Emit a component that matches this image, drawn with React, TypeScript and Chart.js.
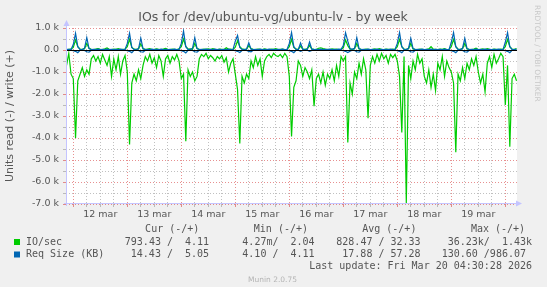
import React, { useEffect, useRef } from 'react';
import { Chart, registerables } from 'chart.js';

Chart.register(...registerables);

// ---------- text ----------
const TITLE = 'IOs for /dev/ubuntu-vg/ubuntu-lv - by week';
const Y_TITLE = 'Units read (-) / write (+)';
const WATERMARK = 'RRDTOOL / TOBI OETIKER';
const FOOTER = 'Munin 2.0.75';
const LAST_UPDATE = 'Last update: Fri Mar 20 04:30:28 2026';

// x axis: hours relative to 12 mar 00:00
const X_MIN = -3.24;
const X_MAX = 197.2;
const START_HOUR = -3;
const DAY_TICKS = [12, 36, 60, 84, 108, 132, 156, 180];
const DAY_LABELS = ['12 mar', '13 mar', '14 mar', '15 mar', '16 mar', '17 mar', '18 mar', '19 mar'];

// y axis
const Y_MIN = -7000;
const Y_MAX = 1000;
const Y_TICK_VALUES = [1000, 0, -1000, -2000, -3000, -4000, -5000, -6000, -7000];
const Y_TICK_LABELS = ['1.0 k', '0.0', '-1.0 k', '-2.0 k', '-3.0 k', '-4.0 k', '-5.0 k', '-6.0 k', '-7.0 k'];

// legend
const LEGEND_HEADERS = ['Cur (-/+)', 'Min (-/+)', 'Avg (-/+)', 'Max (-/+)'];
const SERIES_NAMES = ['IO/sec', 'Req Size (KB)'];
const IO_STATS = ['793.43 /  4.11', '4.27m/  2.04', '828.47 / 32.33', '36.23k/  1.43k'];
const REQ_STATS = ['14.43 /  5.05 ', '4.10 /  4.11 ', '17.88 / 57.28 ', '130.60 /986.07 '];

// ---------- data (hourly, from -3 h to 197 h) ----------
const IO_READ = [
  -700, -150, -1100,
  -1300, -4000, -1400, -1100, -800, -1200, -900, -1100, -400, -250, -500, -300, -600, -200, -450, -700, -300, -1200, -400, -900, -300, -1100, -500, -250,
  -1000, -4300, -1500, -1100, -1400, -900, -1300, -700, -300, -500, -200, -600, -350, -800, -250, -500, -1200, -400, -250, -600, -300, -450, -200, -500,
  -1300, -1100, -4150, -900, -1200, -1000, -1400, -1200, -400, -200, -300, -150, -400, -250, -350, -500, -300, -400, -250, -550, -350, -1000, -600, -400,
  -1100, -1800, -4250, -1200, -1500, -1100, -1300, -500, -800, -300, -700, -400, -1200, -500, -300, -200, -350, -150, -250, -300, -200, -350, -150, -300,
  -1200, -3930, -1700, -1400, -500, -700, -1200, -800, -1000, -1300, -900, -2550, -1300, -1100, -1500, -1000, -1600, -1100, -1300, -900, -1400, -700, -1200, -300,
  -500, -300, -4200, -1500, -2000, -1000, -1300, -600, -1100, -400, -900, -3100, -700, -300, -600, -200, -500, -150, -400, -250, -600, -200, -350, -200,
  -500, -1200, -3750, -300, -6950, -700, -1300, -500, -900, -200, -600, -400, -1200, -1500, -900, -1700, -1100, -1840, -600, -900, -300, -1200, -500, -800,
  -1000, -1500, -4650, -1100, -1400, -800, -1300, -600, -900, -400, -700, -300, -1000, -1500, -1100, -1900, -600, -300, -800, -200, -600, -400, -150, -300,
  -2500, -700, -4400, -1300, -1100, -1400,
];

const IO_WRITE = [
  20, 30, 40,
  120, 450, 150, 40, 30, 60, 300, 80, 30, 20, 40, 60, 30, 20, 50, 90, 30, 20, 40, 30, 60, 20, 30, 40,
  150, 480, 120, 40, 30, 50, 280, 60, 30, 40, 60, 20, 30, 50, 30, 20, 40, 70, 30, 20, 40, 30, 20, 50,
  150, 500, 160, 40, 50, 30, 300, 70, 30, 20, 40, 30, 50, 20, 60, 30, 20, 40, 30, 20, 100, 30, 40, 20,
  130, 420, 150, 50, 30, 40, 200, 60, 30, 20, 40, 30, 20, 50, 30, 20, 40, 30, 60, 20, 30, 40, 20, 30,
  150, 480, 120, 40, 30, 180, 40, 30, 60, 200, 50, 30, 20, 80, 100, 60, 40, 30, 20, 50, 30, 40, 20, 30,
  100, 450, 200, 40, 30, 60, 300, 50, 30, 20, 40, 30, 20, 30, 50, 20, 60, 30, 20, 40, 30, 20, 40, 30,
  150, 480, 150, 40, 30, 60, 300, 50, 30, 20, 40, 30, 20, 30, 50, 150, 40, 30, 20, 40, 30, 60, 20, 30,
  150, 480, 150, 40, 30, 60, 300, 50, 30, 20, 40, 80, 20, 30, 50, 20, 60, 30, 20, 40, 30, 20, 40, 30,
  150, 480, 150, 40, 30, 60,
];

const REQ_READ = [
  -5, -5, -10,
  -30, -60, -120, -20, -10, -20, -80, -100, -10, -5, -10, -5, -10, -5, -5, -10, -5, -5, -10, -5, -5, -10, -5, -5,
  -30, -60, -120, -20, -10, -20, -80, -100, -10, -5, -10, -5, -10, -5, -5, -10, -5, -5, -10, -5, -5, -10, -5, -5,
  -30, -60, -130, -20, -10, -20, -80, -100, -10, -5, -10, -5, -10, -5, -5, -10, -5, -5, -10, -5, -5, -10, -5, -5,
  -30, -60, -110, -20, -10, -20, -60, -80, -10, -5, -10, -5, -10, -5, -5, -10, -5, -5, -10, -5, -5, -10, -5, -5,
  -30, -60, -120, -20, -10, -60, -20, -10, -10, -60, -20, -5, -10, -5, -10, -5, -5, -10, -5, -5, -10, -5, -5, -5,
  -30, -60, -120, -60, -10, -20, -80, -100, -10, -5, -10, -5, -10, -5, -5, -10, -5, -5, -10, -5, -5, -10, -5, -5,
  -30, -60, -120, -20, -10, -20, -80, -100, -10, -5, -10, -5, -10, -5, -5, -10, -5, -5, -10, -5, -5, -10, -5, -5,
  -30, -60, -120, -20, -10, -20, -80, -100, -10, -5, -10, -5, -10, -5, -5, -10, -5, -5, -10, -5, -5, -10, -5, -5,
  -30, -60, -120, -20, -10, -20,
];

const REQ_WRITE = [
  20, 30, 20,
  250, 760, 150, 30, 20, 80, 560, 60, 20, 30, 20, 40, 20, 30, 20, 40, 20, 30, 20, 30, 20, 40, 20, 30,
  300, 760, 120, 30, 20, 60, 540, 50, 20, 30, 20, 40, 20, 30, 20, 40, 20, 30, 20, 30, 20, 40, 20, 30,
  300, 860, 150, 30, 20, 80, 560, 60, 20, 30, 20, 40, 20, 30, 20, 40, 20, 30, 20, 30, 20, 40, 20, 30,
  400, 660, 120, 30, 20, 40, 330, 40, 20, 30, 20, 40, 20, 30, 20, 40, 20, 30, 20, 30, 20, 40, 20, 30,
  300, 790, 150, 30, 20, 320, 40, 20, 30, 360, 40, 20, 30, 20, 40, 20, 30, 20, 40, 20, 30, 20, 40, 30,
  200, 780, 400, 60, 30, 80, 560, 60, 20, 30, 20, 40, 20, 30, 20, 40, 20, 30, 20, 30, 20, 40, 20, 30,
  300, 790, 150, 30, 20, 80, 530, 60, 20, 30, 20, 40, 20, 30, 20, 40, 20, 30, 20, 30, 20, 40, 20, 30,
  350, 790, 150, 30, 20, 80, 530, 60, 20, 30, 20, 40, 20, 30, 20, 40, 20, 30, 20, 30, 20, 40, 20, 30,
  350, 790, 150, 30, 20, 40,
];

// ---------- styles ----------
const GREEN = '#00CC00';
const BLUE = '#0066B3';
const BG = '#F0F0F0';
const TEXT = '#555555';
const GRID_MINOR = 'rgba(140,140,140,0.55)';
const GRID_MAJOR = 'rgba(215,70,70,0.6)';
const AXIS = 'rgb(196,196,255)';
const SANS = 'DejaVu Sans';
const MONO = 'DejaVu Sans Mono';

const toPoints = (values: number[]) => values.map((v, i) => ({ x: START_HOUR + i, y: v }));

const bgPlugin = {
  id: 'muninBg',
  beforeDraw(chart: any) {
    const { ctx, chartArea } = chart;
    ctx.save();
    ctx.fillStyle = BG;
    ctx.fillRect(0, 0, chart.width, chart.height);
    ctx.fillStyle = '#FFFFFF';
    ctx.fillRect(chartArea.left, chartArea.top - 2, chartArea.right - chartArea.left, chartArea.bottom - chartArea.top + 2);
    ctx.restore();
  },
};

const zeroLinePlugin = {
  id: 'zeroLine',
  afterDatasetsDraw(chart: any) {
    const { ctx, chartArea, scales } = chart;
    const y = Math.round(scales.y.getPixelForValue(0)) + 0.5;
    ctx.save();
    ctx.strokeStyle = '#000000';
    ctx.lineWidth = 1.2;
    ctx.beginPath();
    ctx.moveTo(chartArea.left, y);
    ctx.lineTo(chartArea.right, y);
    ctx.stroke();
    ctx.restore();
  },
};

const overlayPlugin = {
  id: 'muninOverlay',
  afterDraw(chart: any) {
    const { ctx, chartArea } = chart;
    ctx.save();
    // axes with arrows
    const ax = chartArea.left + 0.5;
    const ay = chartArea.bottom - 0.5;
    const top = chartArea.top - 2;
    ctx.strokeStyle = AXIS;
    ctx.fillStyle = AXIS;
    ctx.lineWidth = 1;
    ctx.beginPath();
    ctx.moveTo(ax, chartArea.bottom + 2);
    ctx.lineTo(ax, top - 2);
    ctx.moveTo(chartArea.left - 2, ay);
    ctx.lineTo(chartArea.right + 2, ay);
    ctx.stroke();
    ctx.beginPath();
    ctx.moveTo(ax, top - 6);
    ctx.lineTo(ax - 3, top);
    ctx.lineTo(ax + 3, top);
    ctx.closePath();
    ctx.fill();
    ctx.beginPath();
    ctx.moveTo(chartArea.right + 5, ay);
    ctx.lineTo(chartArea.right - 1, ay - 3);
    ctx.lineTo(chartArea.right - 1, ay + 3);
    ctx.closePath();
    ctx.fill();

    // title
    ctx.fillStyle = TEXT;
    ctx.font = `12.5px "${SANS}"`;
    ctx.textAlign = 'center';
    ctx.textBaseline = 'middle';
    ctx.fillText(TITLE, 273, 18);

    // watermark
    ctx.save();
    ctx.translate(537, 5);
    ctx.rotate(Math.PI / 2);
    ctx.fillStyle = '#C8C8C8';
    ctx.font = `7.5px "${SANS}"`;
    ctx.textAlign = 'left';
    ctx.textBaseline = 'middle';
    ctx.fillText(WATERMARK, 0, 0);
    ctx.restore();

    // legend
    ctx.font = `10px "${MONO}"`;
    ctx.fillStyle = TEXT;
    ctx.textBaseline = 'middle';
    const colEnds = [199.3, 308, 416.4, 525.1];
    ctx.textAlign = 'right';
    LEGEND_HEADERS.forEach((h, i) => ctx.fillText(h, colEnds[i], 229));
    const valEnds = [209.1, 314.6, 420.6, 532];
    IO_STATS.forEach((s, i) => ctx.fillText(s, valEnds[i], 242));
    REQ_STATS.forEach((s, i) => ctx.fillText(s, valEnds[i] + (i === 3 ? 0 : 6), 254.5));
    ctx.fillText(LAST_UPDATE, 532, 266.5);
    ctx.textAlign = 'left';
    ctx.fillText(SERIES_NAMES[0], 26, 242);
    ctx.fillText(SERIES_NAMES[1], 26, 254.5);
    ctx.fillStyle = GREEN;
    ctx.fillRect(14, 239, 6, 6);
    ctx.fillStyle = BLUE;
    ctx.fillRect(14, 251.5, 6, 6);

    // footer
    ctx.fillStyle = '#B4B4B4';
    ctx.font = `7.5px "${SANS}"`;
    ctx.textAlign = 'center';
    ctx.fillText(FOOTER, 272.5, 280);
    ctx.restore();
  },
};

export default function App() {
  const ref = useRef<HTMLCanvasElement | null>(null);

  useEffect(() => {
    if (!ref.current) return;
    const lineDs = (label: string, values: number[], color: string) => ({
      label,
      data: toPoints(values),
      borderColor: color,
      backgroundColor: color,
      borderWidth: 1.2,
      pointRadius: 0,
      tension: 0,
      fill: false,
    });
    const chart = new Chart(ref.current, {
      type: 'line',
      data: {
        datasets: [
          lineDs('Req Size (KB) write', REQ_WRITE, BLUE),
          lineDs('Req Size (KB) read', REQ_READ, BLUE),
          lineDs('IO/sec write', IO_WRITE, GREEN),
          lineDs('IO/sec read', IO_READ, GREEN),
        ],
      },
      options: {
        responsive: false,
        animation: false,
        devicePixelRatio: 1,
        layout: { padding: { top: 28, right: 30, left: 0, bottom: 0 } },
        plugins: {
          legend: { display: false },
          tooltip: { enabled: false },
          title: { display: false },
        },
        scales: {
          x: {
            type: 'linear',
            min: X_MIN,
            max: X_MAX,
            afterFit: (s: any) => {
              s.height = 83;
            },
            ticks: {
              stepSize: 6,
              includeBounds: false,
              autoSkip: false,
              maxRotation: 0,
              minRotation: 0,
              padding: 2,
              color: TEXT,
              font: { family: SANS, size: 9.5 },
              callback: (v: any) => {
                const i = DAY_TICKS.indexOf(Number(v));
                return i >= 0 ? DAY_LABELS[i] : '';
              },
            },
            grid: {
              color: (c: any) => (c.tick && c.tick.value % 24 === 0 ? GRID_MAJOR : GRID_MINOR),
              tickColor: (c: any) => (c.tick && c.tick.value % 24 === 0 ? GRID_MAJOR : GRID_MINOR),
              tickLength: 3,
              drawTicks: true,
              lineWidth: 1,
            },
            border: { display: false, dash: [1, 2] },
          },
          y: {
            type: 'linear',
            min: Y_MIN,
            max: Y_MAX,
            afterFit: (s: any) => {
              s.width = 66;
            },
            ticks: {
              stepSize: 500,
              includeBounds: false,
              autoSkip: false,
              padding: 4,
              color: TEXT,
              font: { family: SANS, size: 9.5 },
              callback: (v: any) => {
                const i = Y_TICK_VALUES.indexOf(Number(v));
                return i >= 0 ? Y_TICK_LABELS[i] : '';
              },
            },
            grid: {
              color: (c: any) => (c.tick && c.tick.value % 1000 === 0 ? GRID_MAJOR : GRID_MINOR),
              tickColor: (c: any) => (c.tick && c.tick.value % 1000 === 0 ? GRID_MAJOR : GRID_MINOR),
              tickLength: 3,
              drawTicks: true,
              lineWidth: 1,
            },
            border: { display: false, dash: [1, 2] },
            title: {
              display: true,
              text: Y_TITLE,
              color: TEXT,
              font: { family: SANS, size: 11 },
              padding: { top: 4, bottom: 0 },
            },
          },
        },
      },
      plugins: [bgPlugin, zeroLinePlugin, overlayPlugin],
    } as any);
    return () => chart.destroy();
  }, []);

  return (
    <div style={{ position: 'absolute', left: 0, top: 0, width: 547, height: 287, background: BG }}>
      <canvas ref={ref} width={547} height={287} style={{ display: 'block', width: 547, height: 287 }} />
    </div>
  );
}
